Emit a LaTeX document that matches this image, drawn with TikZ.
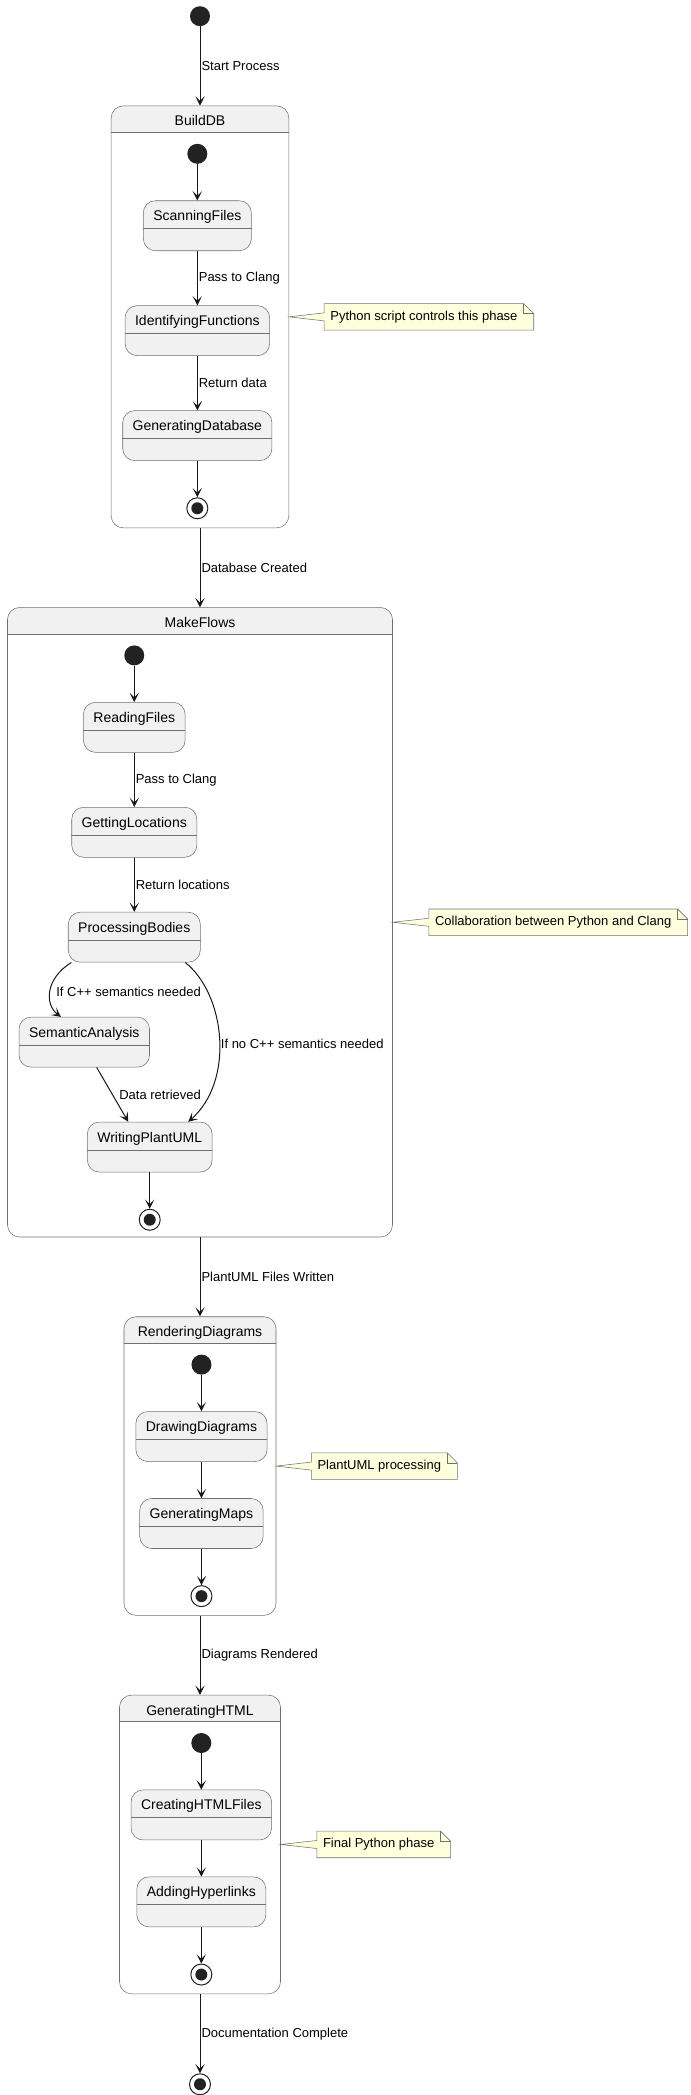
\documentclass[tikz,border=0pt]{standalone}
\usepackage{fontspec}
\setmainfont{Liberation Sans}
\usetikzlibrary{positioning,arrows.meta,backgrounds}

\definecolor{statefill}{HTML}{F1F1F1}
\definecolor{linecol}{HTML}{181818}
\definecolor{bordercol}{HTML}{707070}
\definecolor{dotcol}{HTML}{222222}
\definecolor{notefill}{HTML}{FEFFDD}

\newcommand{\statefont}{\fontsize{10.5pt}{12pt}\selectfont}
\newcommand{\lblfont}{\fontsize{9.75pt}{11pt}\selectfont}

\tikzset{
  startdot/.style={circle, fill=dotcol, minimum size=15pt, inner sep=0pt},
  enddot/.style={circle, draw=dotcol, line width=0.75pt, minimum size=15.75pt, inner sep=0pt,
    path picture={\fill[dotcol] (path picture bounding box.center) circle (4.5pt);}},
  statebox/.style={rectangle, draw=bordercol, line width=0.4pt, fill=statefill, rounded corners=9pt,
    font=\statefont, inner xsep=7.5pt, inner ysep=0pt, text height=15pt, text depth=22.5pt},
  composite/.style={rectangle, draw=bordercol, line width=0.4pt, rounded corners=9pt,
    font=\statefont, anchor=north, inner sep=0pt, text height=15pt},
  thinline/.style={draw=bordercol, line width=0.4pt},
  notetext/.style={font=\lblfont, inner xsep=4.5pt, inner ysep=0pt, minimum height=19.5pt},
  notebox/.style={thinline, fill=notefill},
  flow/.style={draw=linecol, line width=0.75pt, -{Stealth[length=7pt,width=7pt,inset=3.5pt]}},
  lbl/.style={font=\lblfont, anchor=west, inner sep=0.75pt},
}

\begin{document}
\begin{tikzpicture}[x=0.75pt, y=-0.75pt, node distance=27.3pt]
\useasboundingbox (0,0) rectangle (691,2095);

% top level states
\node[startdot] (start) at (200,16.2) {};
\node[composite, below=59.4pt of start, minimum width=133.2pt, text depth=301.4pt] (bdb) {BuildDB};
\node[composite, below=59.4pt of bdb, minimum width=288.75pt, text depth=457.1pt] (mf) {MakeFlows};
\node[composite, below=59.4pt of mf, minimum width=114pt, text depth=209pt] (rd) {RenderingDiagrams};
\node[composite, below=59.4pt of rd, minimum width=120.75pt, text depth=209pt] (gh) {GeneratingHTML};
\node[enddot, below=59.4pt of gh] (stop) {};

% BuildDB
\node[startdot, below=28.4pt of bdb.north, xshift=-2pt] (bdbinit) {};
\node[statebox, below=of bdbinit] (scan) {ScanningFiles};
\node[statebox, below=40.8pt of scan] (ident) {IdentifyingFunctions};
\node[statebox, below=40.8pt of ident] (gendb) {GeneratingDatabase};
\node[enddot, below=of gendb] (bdbend) {};

% MakeFlows
\node[startdot, below=28.4pt of mf.north, xshift=-49.3pt] (mfinit) {};
\node[statebox, below=of mfinit] (read) {ReadingFiles};
\node[statebox, below=40.8pt of read] (locs) {GettingLocations};
\node[statebox, below=40.8pt of locs] (proc) {ProcessingBodies};
\node[statebox, below=40.8pt of proc, xshift=-37.5pt] (sem) {SemanticAnalysis};
\node[statebox, below=40.8pt of sem, xshift=49.1pt] (wpu) {WritingPlantUML};
\node[enddot, below=of wpu] (mfend) {};

% RenderingDiagrams
\node[startdot, below=28.4pt of rd.north, xshift=1.1pt] (rdinit) {};
\node[statebox, below=of rdinit] (drawdia) {DrawingDiagrams};
\node[statebox, below=of drawdia] (maps) {GeneratingMaps};
\node[enddot, below=of maps] (rdend) {};

% GeneratingHTML
\node[startdot, below=28.4pt of gh.north, xshift=1pt] (ghinit) {};
\node[statebox, below=of ghinit] (html) {CreatingHTMLFiles};
\node[statebox, below=of html] (links) {AddingHyperlinks};
\node[enddot, below=of links] (ghend) {};

% notes
\node[notetext, right=26.25pt of bdb] (bdbnote) {Python script controls this phase};
\node[notetext, right=27pt of mf] (mfnote) {Collaboration between Python and Clang};
\node[notetext, right=26.25pt of rd] (rdnote) {PlantUML processing};
\node[notetext, right=27pt of gh] (ghnote) {Final Python phase};

\path[flow, every node/.style={lbl}]
  (start) edge node {Start Process} (bdb)
  (bdb) edge node {Database Created} (mf)
  (mf) edge node {PlantUML Files Written} (rd)
  (rd) edge node {Diagrams Rendered} (gh)
  (gh) edge node {Documentation Complete} (stop)
  (bdbinit) edge (scan)
  (scan) edge node {Pass to Clang} (ident)
  (ident) edge node {Return data} (gendb)
  (gendb) edge (bdbend)
  (mfinit) edge (read)
  (read) edge node {Pass to Clang} (locs)
  (locs) edge node {Return locations} (proc)
  (wpu) edge (mfend)
  (rdinit) edge (drawdia)
  (drawdia) edge (maps)
  (maps) edge (rdend)
  (ghinit) edge (html)
  (html) edge (links)
  (links) edge (ghend);

\draw[flow] ([xshift=9.3pt]sem.south) -- ([xshift=-16.1pt]wpu.north)
  node[lbl, midway, xshift=4pt] {Data retrieved};
\draw[flow] ([xshift=2.55pt]proc.south west) .. controls +(-26.7,16.6) and +(-16,-12) .. ([xshift=-17.5pt]sem.north)
  node[lbl, pos=0.5, xshift=3.5pt] {If C++ semantics needed};
\draw[flow] ([xshift=-11.5pt]proc.south east) .. controls +(40,31.6) and +(46.7,-41.3) .. ([xshift=28.9pt]wpu.north)
  node[lbl, pos=0.53] {If no C++ semantics needed};

% compartment lines
\foreach \s in {scan,ident,gendb,read,locs,proc,sem,wpu,drawdia,maps,html,links}
  \draw[thinline] ([yshift=-21pt]\s.north west) -- ([yshift=-21pt]\s.north east);

\begin{scope}[on background layer]
  \foreach \comp in {bdb,mf,rd,gh} {
    \begin{scope}
      \clip (\comp.north west) rectangle ([yshift=-19.9pt]\comp.north east);
      \fill[statefill, rounded corners=9pt] (\comp.north west) rectangle (\comp.south east);
    \end{scope}
    \draw[thinline] ([yshift=-19.9pt]\comp.north west) -- ([yshift=-19.9pt]\comp.north east);
  }
  \foreach \comp/\nt in {bdb/bdbnote,mf/mfnote,rd/rdnote,gh/ghnote} {
    \draw[notebox] (\nt.north west) -- (\nt.north east) -- ([xshift=7.5pt,yshift=-7.5pt]\nt.north east)
      -- ([xshift=7.5pt]\nt.south east) -- (\nt.south west) -- ([yshift=-3pt]\nt.west) -- (\comp.east)
      -- ([yshift=3pt]\nt.west) -- cycle;
    \draw[thinline] (\nt.north east) -- ([yshift=-7.5pt]\nt.north east) -- ([xshift=7.5pt,yshift=-7.5pt]\nt.north east);
  }
\end{scope}
\end{tikzpicture}
\end{document}
